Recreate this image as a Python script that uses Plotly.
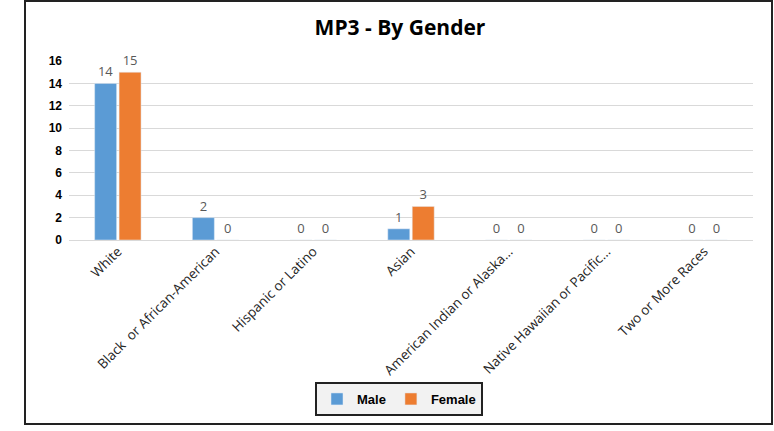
import plotly.graph_objects as go

# Race / ethnicity categories and counts by gender
categories = [
    "White",
    "Black  or African-American",
    "Hispanic or Latino",
    "Asian",
    "American Indian or Alaska...",
    "Native Hawaiian or Pacific...",
    "Two or More Races",
]
male = [14, 2, 0, 1, 0, 0, 0]
female = [15, 0, 0, 3, 0, 0, 0]
y_ticks = [0, 2, 4, 6, 8, 10, 12, 14, 16]

W, H = 774, 431
L, R, T, B = 69, 21, 61, 191
pw, ph = W - L - R, H - T - B


def px_x(x):
    return (x - L) / pw


def px_y(y):
    return (H - B - y) / ph


label_font = dict(family="Open Sans, Liberation Sans, sans-serif", size=13, color="#595959")

fig = go.Figure()
fig.add_trace(go.Bar(
    name="Male", x=categories, y=male, marker_color="#5b9bd5",
    text=male, textposition="outside", textfont=label_font, cliponaxis=False,
))
fig.add_trace(go.Bar(
    name="Female", x=categories, y=female, marker_color="#ed7d31",
    text=female, textposition="outside", textfont=label_font, cliponaxis=False,
))

# outer frame around the whole chart
fig.add_shape(
    type="rect", xref="paper", yref="paper",
    x0=px_x(25), x1=px_x(772), y0=px_y(424), y1=px_y(1),
    line=dict(color="#222222", width=2), layer="below",
)

fig.update_layout(
    width=W, height=H,
    margin=dict(l=L, r=R, t=T, b=B),
    paper_bgcolor="white", plot_bgcolor="white",
    barmode="group", bargap=0.5, bargroupgap=0.1,
    title=dict(
        text="<b>MP3 - By Gender</b>", x=px_x(400), xref="paper", xanchor="center",
        y=1 - 28 / H, yanchor="middle",
        font=dict(family="Open Sans, Liberation Sans, sans-serif", size=21, color="black"),
    ),
    xaxis=dict(
        tickangle=-45, showgrid=False, showline=False, ticks="",
        tickfont=dict(family="Open Sans, Liberation Sans, sans-serif", size=13.5, color="#262626"),
    ),
    yaxis=dict(
        range=[0, 16], tickvals=y_ticks, showgrid=True, gridcolor="#d9d9d9", gridwidth=1,
        zeroline=True, zerolinecolor="#d9d9d9", zerolinewidth=1, showline=False,
        tickfont=dict(family="Liberation Sans, Arial, sans-serif", size=12, color="black", weight="bold"),
        ticklabelstandoff=6,
    ),
    legend=dict(
        orientation="h", x=px_x(399), xanchor="center", y=px_y(399), yanchor="middle",
        bgcolor="#f2f2f2", bordercolor="#222222", borderwidth=2,
        font=dict(family="Liberation Sans, Arial, sans-serif", size=13, color="black", weight="bold"),
        itemwidth=30, traceorder="normal",
    ),
    showlegend=True,
)

fig.write_html("out.html")
